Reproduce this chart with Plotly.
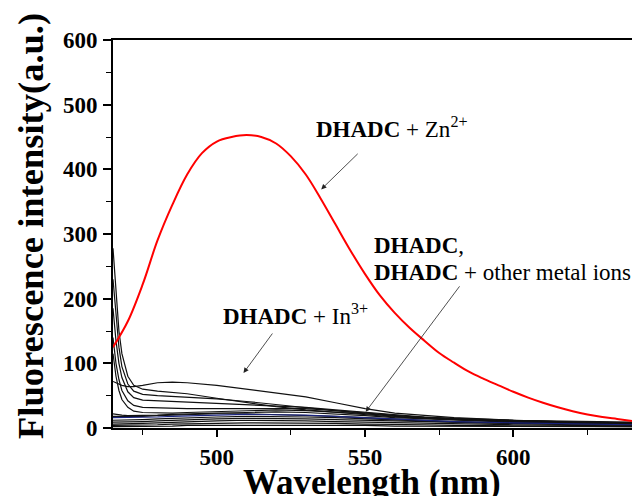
import plotly.graph_objects as go

# ---------------- data ----------------
wl_red = [465, 470, 475, 480, 485, 490, 495, 500, 505, 510, 515, 520, 525, 530, 535,
          540, 545, 550, 555, 560, 565, 570, 575, 580, 585, 590, 595, 600, 605, 610,
          615, 620, 625, 630, 635, 640]
zn = [125, 165, 222, 290, 345, 392, 425, 443, 450, 453, 450, 440, 420, 392, 355,
      315, 275, 238, 205, 178, 155, 135, 116, 101, 87, 76, 66, 56, 47, 39,
      32, 26, 21, 17, 14, 11]

wl = [465, 466, 467, 468, 470, 472, 475, 480, 485, 490, 500, 510, 520, 530, 540,
      550, 560, 570, 580, 600, 620, 640]
in3 = [72, 70, 68, 66, 64, 64, 66, 70, 71, 70, 66, 60, 54, 48, 39, 30, 23, 19, 16, 12, 10, 9]
ion_b = [278, 205, 150, 115, 80, 66, 60, 57, 55, 53, 46, 39, 33, 28, 24, 20, 17, 15, 13, 10, 8, 7]
ion_c = [230, 170, 125, 95, 68, 57, 52, 50, 49, 48, 45, 41, 36, 31, 26, 22, 19, 16, 14, 11, 9, 8]
ion_d = [185, 135, 100, 78, 56, 47, 43, 42, 41, 40, 39, 37, 35, 32, 28, 24, 20, 17, 15, 12, 9, 8]
ion_e = [140, 100, 75, 58, 42, 35, 32, 31, 31, 30, 30, 30, 31, 30, 27, 23, 19, 16, 14, 11, 9, 8]
ion_f = [115, 80, 58, 44, 32, 26, 24, 23, 23, 24, 25, 27, 28, 27, 25, 22, 18, 15, 13, 10, 8, 7]
ion_g = [22, 21, 20, 20, 19, 19, 19, 20, 21, 22, 23, 24, 25, 24, 22, 19, 16, 14, 12, 9, 8, 7]
ion_h = [18, 18, 17, 17, 17, 17, 18, 19, 20, 21, 22, 22, 21, 20, 18, 16, 14, 12, 10, 8, 7, 6]
ion_i = [16, 16, 16, 16, 16, 16, 17, 17, 18, 19, 20, 21, 21, 20, 18, 16, 14, 12, 10, 8, 6, 5]
ion_j = [12, 12, 12, 12, 12, 13, 13, 14, 15, 16, 17, 18, 18, 17, 16, 14, 12, 11, 9, 7, 6, 5]
ion_k = [9, 9, 9, 9, 9, 9, 10, 11, 12, 13, 14, 15, 15, 14, 13, 12, 10, 9, 8, 6, 5, 4]
ion_l = [6, 6, 6, 6, 6, 6, 7, 8, 9, 10, 11, 12, 12, 11, 10, 9, 8, 7, 6, 5, 4, 3]
ion_m = [4, 4, 4, 4, 4, 4, 5, 5, 6, 6, 7, 8, 8, 8, 7, 6, 6, 5, 4, 3, 3, 2]
ion_n = [2, 2, 2, 2, 2, 2, 3, 3, 3, 4, 4, 5, 5, 5, 4, 4, 3, 3, 3, 2, 2, 2]

black_series = [ion_b, ion_c, ion_d, ion_e, ion_f, ion_g, ion_h, ion_j, ion_k, ion_l, ion_m, ion_n, in3]
blue_series = [ion_i]

x_ticks = [500, 550, 600]
y_ticks = [0, 100, 200, 300, 400, 500, 600]

# ---------------- figure ----------------
FONT = "Liberation Serif, Times New Roman, serif"
fig = go.Figure()
for s in black_series:
    fig.add_trace(go.Scatter(x=wl, y=s, mode="lines",
                             line=dict(color="#111111", width=1.2), showlegend=False))
for s in blue_series:
    fig.add_trace(go.Scatter(x=wl, y=s, mode="lines",
                             line=dict(color="#1a237e", width=1.2), showlegend=False))
fig.add_trace(go.Scatter(x=wl_red, y=zn, mode="lines", line_shape="spline",
                         line=dict(color="#ff0000", width=2), showlegend=False))

L, R, T, B = 113, 0, 40, 68
W, H = 632, 496
pw, ph = W - L - R, H - T - B

def px(xp):
    return (xp - L) / pw

def py(yp):
    return (H - B - yp) / ph

fig.update_layout(
    width=W, height=H,
    margin=dict(l=L, r=R, t=T, b=B, pad=0),
    plot_bgcolor="white", paper_bgcolor="white",
    font=dict(family=FONT, color="black"),
    xaxis=dict(range=[465, 640], tickvals=x_ticks, ticks="outside", ticklen=7, tickwidth=1.5,
               tickcolor="black", showline=True, linewidth=2, linecolor="black", mirror=True,
               showgrid=False, zeroline=False, ticklabelstandoff=0,
               tickfont=dict(family=FONT, size=23, weight="bold", color="black"),
               minor=dict(tickvals=[475, 525, 575, 625], ticks="outside", ticklen=5, tickwidth=1.2,
                          tickcolor="black", showgrid=False)),
    yaxis=dict(range=[0, 600], tickvals=y_ticks, ticks="outside", ticklen=8, tickwidth=1.5,
               tickcolor="black", showline=True, linewidth=2, linecolor="black", mirror=False,
               showgrid=False, zeroline=False, ticklabelstandoff=1,
               tickfont=dict(family=FONT, size=23, weight="bold", color="black"),
               minor=dict(dtick=50, ticks="outside", ticklen=5, tickwidth=1.2,
                          tickcolor="black", showgrid=False)),
)

# axis titles
fig.add_annotation(text="<b>Wavelength (nm)</b>", xref="paper", yref="paper",
                   x=px(372), y=py(482), xanchor="center", yanchor="middle",
                   showarrow=False, font=dict(family=FONT, size=35, color="black"))
fig.add_annotation(text="<b>Fluorescence intensity(a.u.)</b>", xref="paper", yref="paper",
                   x=px(31), y=py(226), xanchor="center", yanchor="middle", textangle=-90,
                   showarrow=False, font=dict(family=FONT, size=36.5, color="black"))

# labels
lab_font = dict(family=FONT, size=23, color="black")
fig.add_annotation(text="<b>DHADC</b> + Zn<sup>2+</sup>", xref="paper", yref="paper",
                   x=px(314), y=py(128), xanchor="left", yanchor="middle",
                   showarrow=False, font=lab_font)
fig.add_annotation(text="<b>DHADC</b> + In<sup>3+</sup>", xref="paper", yref="paper",
                   x=px(221), y=py(315), xanchor="left", yanchor="middle",
                   showarrow=False, font=lab_font)
fig.add_annotation(text="<b>DHADC</b>,", xref="paper", yref="paper",
                   x=px(372), y=py(245), xanchor="left", yanchor="middle",
                   showarrow=False, font=lab_font)
fig.add_annotation(text="<b>DHADC</b> + other metal ions", xref="paper", yref="paper",
                   x=px(372), y=py(272), xanchor="left", yanchor="middle",
                   showarrow=False, font=lab_font)

# arrows (head in data coords, tail as pixel offsets)
arrow_style = dict(showarrow=True, arrowhead=2, arrowsize=1.3, arrowwidth=0.8,
                   arrowcolor="#222222", text="", xref="x", yref="y")
fig.add_annotation(x=535.2, y=369, ax=38, ay=-37, **arrow_style)
fig.add_annotation(x=509, y=85, ax=30, ay=-41, **arrow_style)
fig.add_annotation(x=550.2, y=25, ax=95, ay=-127, **arrow_style)

fig.write_html("out.html")
